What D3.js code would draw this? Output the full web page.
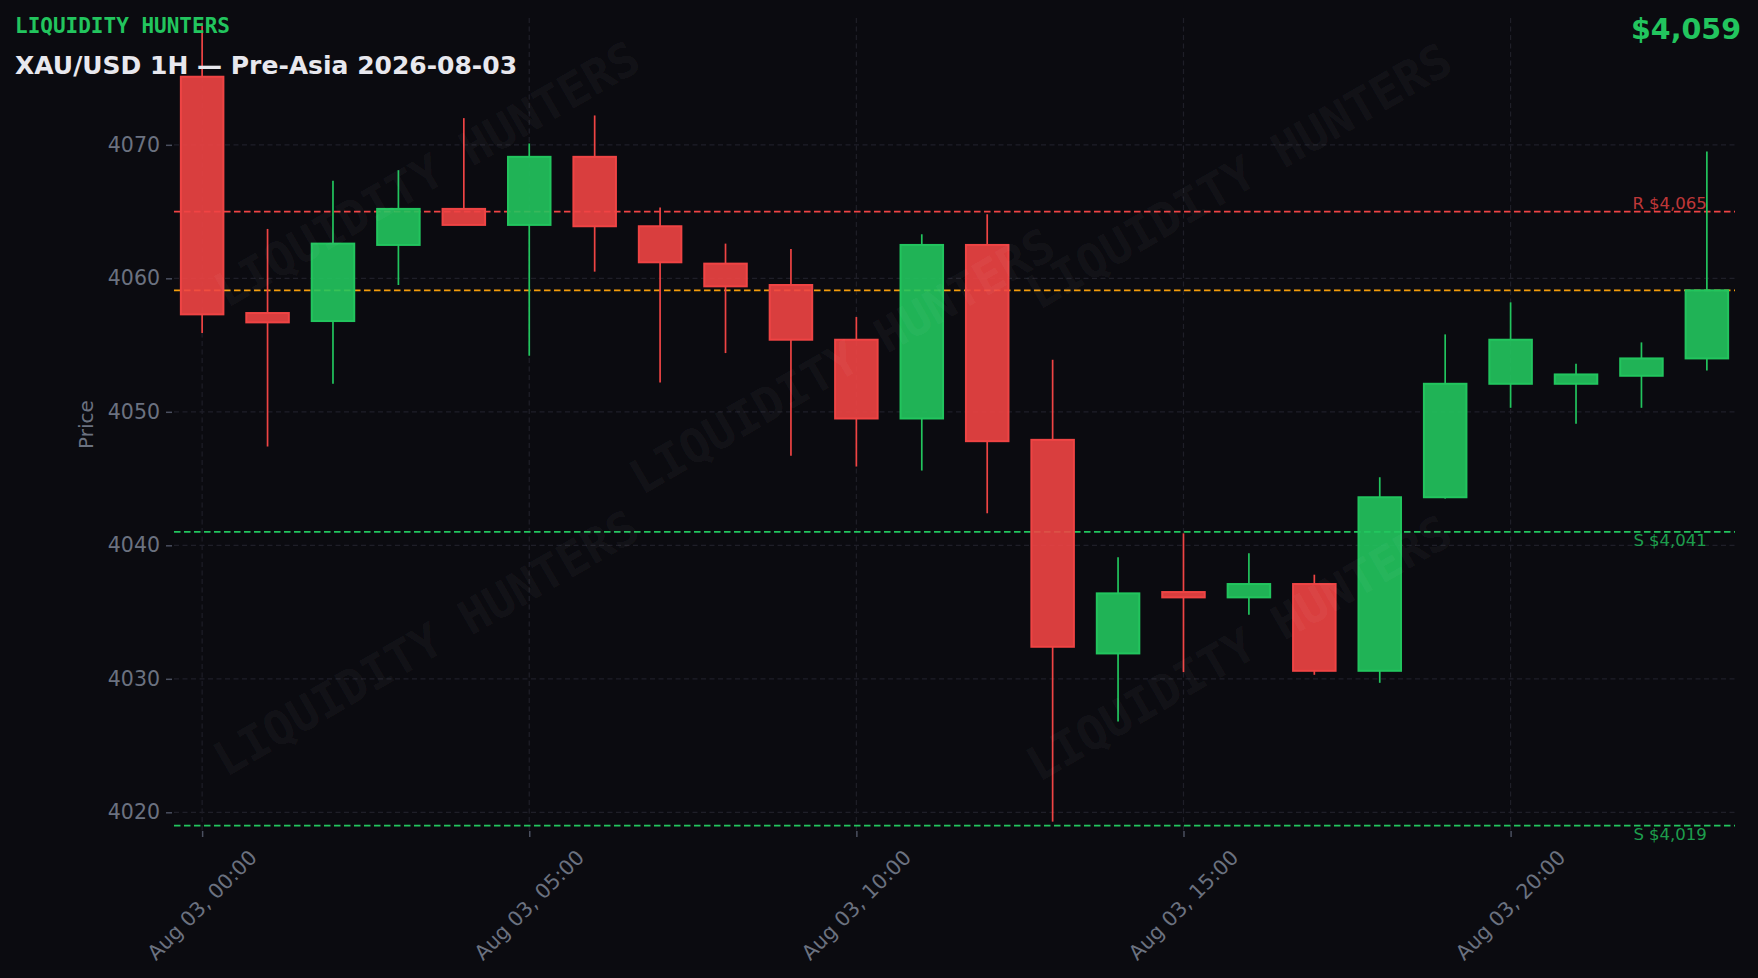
<!DOCTYPE html>
<html>
<head>
<meta charset="utf-8">
<script src="https://cdn.jsdelivr.net/npm/d3@7"></script>
<style>
  html, body { margin: 0; padding: 0; background: #0b0b10; }
  svg { display: block; }
</style>
</head>
<body>
<svg id="chart" width="1758" height="978"></svg>
<script>
// ---------------- DATA ----------------
const times = [
  "2026-08-03T00:00", "2026-08-03T01:00", "2026-08-03T02:00", "2026-08-03T03:00",
  "2026-08-03T04:00", "2026-08-03T05:00", "2026-08-03T06:00", "2026-08-03T07:00",
  "2026-08-03T08:00", "2026-08-03T09:00", "2026-08-03T10:00", "2026-08-03T11:00",
  "2026-08-03T12:00", "2026-08-03T13:00", "2026-08-03T14:00", "2026-08-03T15:00",
  "2026-08-03T16:00", "2026-08-03T17:00", "2026-08-03T18:00", "2026-08-03T19:00",
  "2026-08-03T20:00", "2026-08-03T21:00", "2026-08-03T22:00", "2026-08-03T23:00"
];
const opens  = [4075.1, 4057.4, 4056.8, 4062.5, 4065.2, 4064.0, 4069.1, 4063.9, 4061.1, 4059.5, 4055.4, 4049.5,
                4062.5, 4047.9, 4031.9, 4036.5, 4036.1, 4037.1, 4030.6, 4043.6, 4052.1, 4052.1, 4052.7, 4054.0];
const highs  = [4079.1, 4063.7, 4067.3, 4068.1, 4072.0, 4070.1, 4072.2, 4065.3, 4062.6, 4062.2, 4057.1, 4063.3,
                4064.8, 4053.9, 4039.1, 4040.9, 4039.4, 4037.8, 4045.1, 4055.8, 4058.2, 4053.6, 4055.2, 4069.5];
const lows   = [4055.9, 4047.4, 4052.1, 4059.5, 4064.0, 4054.2, 4060.5, 4052.2, 4054.4, 4046.7, 4045.9, 4045.6,
                4042.4, 4019.3, 4026.8, 4030.5, 4034.8, 4030.3, 4029.7, 4043.5, 4050.3, 4049.1, 4050.3, 4053.1];
const closes = [4057.3, 4056.7, 4062.6, 4065.2, 4064.0, 4069.1, 4063.9, 4061.2, 4059.4, 4055.4, 4049.5, 4062.5,
                4047.8, 4032.4, 4036.4, 4036.1, 4037.1, 4030.6, 4043.6, 4052.1, 4055.4, 4052.8, 4054.0, 4059.1];

const yTicks = [4020, 4030, 4040, 4050, 4060, 4070];
const xTickTimes = ["2026-08-03T00:00", "2026-08-03T05:00", "2026-08-03T10:00", "2026-08-03T15:00", "2026-08-03T20:00"];

const levelValues = [4065, 4041, 4019];
const levelLabels = ["R $4,065", "S $4,041", "S $4,019"];
const levelKinds  = ["R", "S", "S"];

const brandText = "LIQUIDITY HUNTERS";
const titleText = "XAU/USD 1H \u2014 Pre-Asia 2026-08-03";
const yAxisTitle = "Price";

// ---------------- STYLE ----------------
const W = 1758, H = 978;
const plot = { left: 174, right: 1735, top: 18, bottom: 831 };
const GREEN = "#22c55e", RED = "#ef4444", ORANGE = "#f59e0b";
const GRID = "#1f1f28", TICKTXT = "#6b7280";

const parse = d3.timeParse("%Y-%m-%dT%H:%M");
const data = times.map((t, i) => ({ t: parse(t), o: opens[i], h: highs[i], l: lows[i], c: closes[i] }));
const HOUR = 3600 * 1000;
const t0 = data[0].t, tN = data[data.length - 1].t;

const x = d3.scaleTime()
  .domain([new Date(+t0 - 0.43 * HOUR), new Date(+tN + 0.43 * HOUR)])
  .range([plot.left, plot.right]);
const y = d3.scaleLinear().domain([4018.6, 4079.5]).range([plot.bottom, plot.top]);

const svg = d3.select("#chart");
svg.append("rect").attr("width", W).attr("height", H).attr("fill", "#0b0b10");

const hourPx = x(new Date(+t0 + HOUR)) - x(t0);

// grid
const g = svg.append("g");
g.selectAll("line.hg").data(yTicks).join("line")
  .attr("x1", plot.left).attr("x2", plot.right)
  .attr("y1", d => y(d)).attr("y2", d => y(d))
  .attr("stroke", GRID).attr("stroke-width", 1.2).attr("stroke-dasharray", "5,3.5");
g.selectAll("line.vg").data(xTickTimes.map(parse)).join("line")
  .attr("x1", d => x(d)).attr("x2", d => x(d))
  .attr("y1", plot.top).attr("y2", plot.bottom)
  .attr("stroke", GRID).attr("stroke-width", 1.2).attr("stroke-dasharray", "5,3.5");

// axes (ticks + labels) via d3 axis
const yAxis = svg.append("g").attr("transform", `translate(${plot.left - 2},0)`)
  .call(d3.axisLeft(y).tickValues(yTicks).tickSize(6).tickPadding(6).tickFormat(d3.format("d")));
yAxis.select(".domain").remove();
yAxis.selectAll(".tick line").attr("stroke", "#4b5060").attr("stroke-width", 1.5);
yAxis.selectAll(".tick text").attr("fill", TICKTXT).attr("font-family", "DejaVu Sans")
  .attr("font-size", 20.5);

const xAxis = svg.append("g").attr("transform", `translate(0,${plot.bottom})`)
  .call(d3.axisBottom(x).tickValues(xTickTimes.map(parse)).tickSize(6).tickFormat(""));
xAxis.select(".domain").remove();
xAxis.selectAll(".tick line").attr("stroke", "#4b5060").attr("stroke-width", 1.5);

const fmt = d3.timeFormat("%b %d, %H:%M");
svg.append("g").selectAll("text").data(xTickTimes.map(parse)).join("text")
  .attr("transform", d => `translate(${x(d)},${plot.bottom + 74}) rotate(-45)`)
  .attr("text-anchor", "middle").attr("dominant-baseline", "central")
  .attr("fill", TICKTXT).attr("font-family", "DejaVu Sans").attr("font-size", 20.5)
  .text(d => fmt(d));

svg.append("text")
  .attr("transform", `translate(${86},${(plot.top + plot.bottom) / 2}) rotate(-90)`)
  .attr("text-anchor", "middle").attr("dominant-baseline", "central")
  .attr("fill", TICKTXT).attr("font-family", "DejaVu Sans").attr("font-size", 20)
  .text(yAxisTitle);

// level lines
const levels = levelValues.map((v, i) => ({ v, label: levelLabels[i], kind: levelKinds[i] }));
svg.append("g").selectAll("line").data(levels).join("line")
  .attr("x1", plot.left).attr("x2", plot.right)
  .attr("y1", d => y(d.v)).attr("y2", d => y(d.v))
  .attr("stroke", d => d.kind === "R" ? RED : GREEN)
  .attr("stroke-width", 1.7).attr("stroke-dasharray", "6.5,3.5");

// current price line
const last = data[data.length - 1];
svg.append("line")
  .attr("x1", plot.left).attr("x2", plot.right)
  .attr("y1", y(last.c)).attr("y2", y(last.c))
  .attr("stroke", ORANGE).attr("stroke-width", 1.7).attr("stroke-dasharray", "6.5,3.5");

// candles
const bodyW = 0.65 * hourPx;
const cg = svg.append("g");
const candle = cg.selectAll("g").data(data).join("g");
candle.append("line")
  .attr("x1", d => x(d.t)).attr("x2", d => x(d.t))
  .attr("y1", d => y(d.h)).attr("y2", d => y(Math.max(d.o, d.c)))
  .attr("stroke", d => d.c >= d.o ? GREEN : RED).attr("stroke-width", 1.7);
candle.append("line")
  .attr("x1", d => x(d.t)).attr("x2", d => x(d.t))
  .attr("y1", d => y(Math.min(d.o, d.c))).attr("y2", d => y(d.l))
  .attr("stroke", d => d.c >= d.o ? GREEN : RED).attr("stroke-width", 1.7);
candle.append("rect")
  .attr("x", d => x(d.t) - bodyW / 2).attr("width", bodyW)
  .attr("y", d => y(Math.max(d.o, d.c)))
  .attr("height", d => Math.max(1, Math.abs(y(d.o) - y(d.c))))
  .attr("fill", d => d.c >= d.o ? GREEN : RED).attr("fill-opacity", 0.9)
  .attr("stroke", d => d.c >= d.o ? GREEN : RED).attr("stroke-width", 2);

// level labels
svg.append("g").selectAll("text").data(levels).join("text")
  .attr("x", x(tN)).attr("y", d => d.kind === "R" ? y(d.v) - 3 : y(d.v) + 2.5)
  .attr("dominant-baseline", d => d.kind === "R" ? "auto" : "hanging")
  .attr("text-anchor", "end")
  .attr("fill", d => d.kind === "R" ? RED : GREEN).attr("fill-opacity", 0.8)
  .attr("font-family", "DejaVu Sans").attr("font-size", 16.5)
  .text(d => d.label);

// watermarks
const wmCenters = [[427, 174], [842, 361], [1239, 176], [426, 643], [1239, 648]];
svg.append("g").selectAll("text").data(wmCenters).join("text")
  .attr("transform", d => `translate(${d[0]},${d[1]}) rotate(-30)`)
  .attr("text-anchor", "middle").attr("dominant-baseline", "central")
  .attr("font-family", "DejaVu Sans Mono").attr("font-weight", "bold").attr("font-size", 47)
  .attr("fill", "#ffffff").attr("fill-opacity", 0.055)
  .text(brandText);

// header texts
svg.append("text").attr("x", 15).attr("y", 33)
  .attr("font-family", "DejaVu Sans Mono").attr("font-weight", "bold").attr("font-size", 21)
  .attr("fill", GREEN).text(brandText);
svg.append("text").attr("x", 15).attr("y", 74)
  .attr("font-family", "DejaVu Sans").attr("font-weight", "bold").attr("font-size", 25)
  .attr("fill", "#e8e8ee").text(titleText);
svg.append("text").attr("x", 1741).attr("y", 39).attr("text-anchor", "end")
  .attr("font-family", "DejaVu Sans").attr("font-weight", "bold").attr("font-size", 28.5)
  .attr("fill", GREEN).text("$" + d3.format(",.0f")(last.c));
</script>
</body>
</html>
